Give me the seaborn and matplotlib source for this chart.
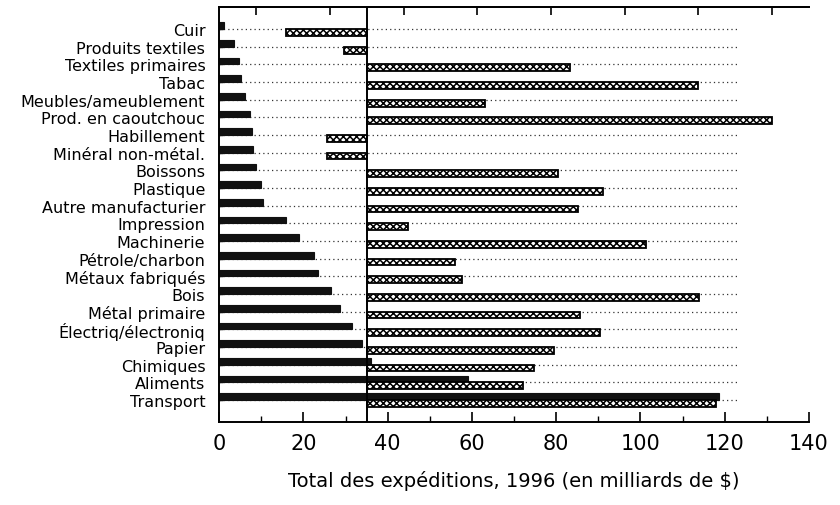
import numpy as np
import pandas as pd
import seaborn as sns
import matplotlib.pyplot as plt

# categories, top to bottom
categories = ["Cuir", "Produits textiles", "Textiles primaires", "Tabac",
              "Meubles/ameublement", "Prod. en caoutchouc", "Habillement",
              "Minéral non-métal.", "Boissons", "Plastique",
              "Autre manufacturier", "Impression", "Machinerie",
              "Pétrole/charbon", "Métaux fabriqués", "Bois", "Métal primaire",
              "Électriq/électroniq", "Papier", "Chimiques", "Aliments",
              "Transport"]

# total shipments 1996 (billions $) - dark bars
expeditions = [1.2, 3.6, 4.6, 5.2, 6.0, 7.2, 7.8, 8.0, 8.8, 10.0, 10.4,
               15.8, 19.0, 22.6, 23.4, 26.6, 28.6, 31.6, 34.0, 36.0, 59.0,
               118.6]

# second series, drawn from the reference line at 35 - hatched bars
croissance = [-19.2, -5.4, 48.2, 78.6, 28.2, 96.3, -9.4, -9.4, 45.4, 56.1,
              50.1, 9.8, 66.4, 20.9, 22.6, 78.9, 50.7, 55.5, 44.4, 39.7,
              37.1, 83.0]

ligne_ref = 35
x_ticks = [0, 20, 40, 60, 80, 100, 120, 140]
top_ticks = [8.75, 26.25, 43.75, 61.25, 78.75, 96.25, 113.75, 131.25]

pos = np.arange(len(categories))
df = pd.DataFrame({"categorie": categories, "pos": pos,
                   "expeditions": expeditions, "croissance": croissance})

sns.set_theme(style="white", rc={"text.color": "black",
                                 "axes.labelcolor": "black",
                                 "xtick.color": "black",
                                 "ytick.color": "black",
                                 "hatch.linewidth": 1.1})
plt.rcParams["font.family"] = ["DejaVu Sans"]

fig, ax = plt.subplots(figsize=(8.4, 5.06), dpi=100)
fig.subplots_adjust(left=0.261, right=0.963, top=0.984, bottom=0.164)

# dotted leaders across each row
ax.hlines(df["pos"], 0, 123, colors="#333333", linestyles=(0, (1, 2.5)),
          linewidth=0.9, zorder=0)

sns.barplot(data=df.assign(y=df["pos"] - 0.19), x="expeditions", y="y",
            orient="h", native_scale=True, color="#111111", width=0.38,
            saturation=1, edgecolor="#111111", linewidth=0.8,
            ax=ax, zorder=2)

sns.barplot(data=df.assign(y=df["pos"] + 0.19), x="croissance", y="y",
            orient="h", native_scale=True, color="white", width=0.38,
            saturation=1, left=ligne_ref, edgecolor="black", hatch="xxxxx",
            linewidth=1.3, ax=ax, zorder=3)

ax.axvline(ligne_ref, color="black", linewidth=1.4, zorder=4)

ax.set_xlim(0, 140)
ax.set_ylim(22.25, -1.25)
ax.set_yticks(pos)
ax.set_yticklabels(categories, fontsize=11.5)
ax.set_ylabel("")
ax.set_xticks(x_ticks)
ax.set_xticks(np.arange(10, 140, 20), minor=True)
ax.set_xticklabels([str(v) for v in x_ticks], fontsize=15)
ax.set_xlabel("Total des expéditions, 1996 (en milliards de $)",
              fontsize=14, labelpad=12)

ax.tick_params(axis="x", which="major", direction="in", length=7,
               width=1.2, color="black", pad=8, bottom=True)
ax.tick_params(axis="x", which="minor", direction="in", length=4,
               width=1, color="black", bottom=True)
ax.tick_params(axis="y", direction="in", length=3, width=1,
               color="black", pad=10, left=True)

for side in ["left", "top", "bottom"]:
    ax.spines[side].set_visible(True)
    ax.spines[side].set_color("black")
    ax.spines[side].set_linewidth(1.4)
ax.spines["right"].set_visible(False)

sec = ax.secondary_xaxis("top")
sec.set_xticks(top_ticks)
sec.tick_params(direction="in", length=6, width=1.2, color="black",
                labeltop=False)
sec.spines["top"].set_linewidth(1.4)

fig.savefig("out.png", dpi=100)
